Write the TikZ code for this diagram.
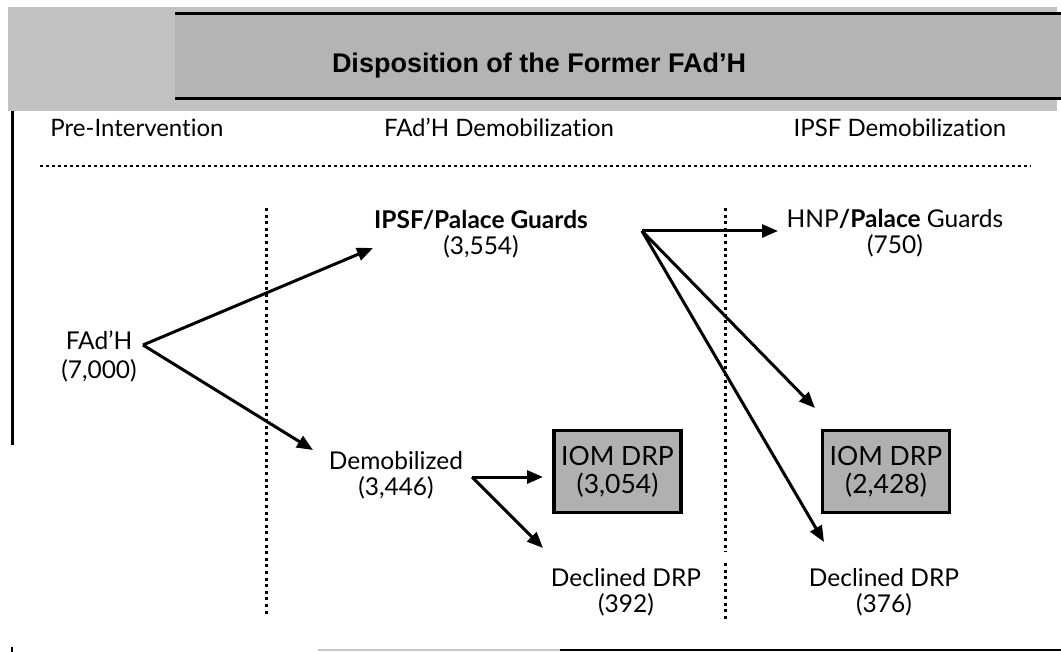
\documentclass[tikz,border=0pt]{standalone}
\usepackage{fontspec}
\setmainfont{Lato}[Ligatures=NoCommon]
\newfontfamily\titlefont{Liberation Sans}
\usetikzlibrary{arrows.meta}
\definecolor{bandgray}{HTML}{C2C2C2}
\definecolor{dithgray}{HTML}{B4B4B4}
\definecolor{boxgray}{HTML}{B0B0B0}
\definecolor{linegray}{HTML}{C8C8C8}
\begin{document}
\begin{tikzpicture}[x=1pt,y=-1pt,
  lbl/.style={font=\fontsize{24.5}{26}\selectfont, align=center, inner sep=0pt, anchor=base},
  hdr/.style={font=\fontsize{24}{26}\selectfont, inner sep=0pt, anchor=base},
  arr/.style={line width=3pt, -{Triangle[length=16pt,width=13pt]}},
  vdots/.style={line width=3pt, dash pattern=on 3pt off 3.6pt},
  hdots/.style={line width=2.4pt, dash pattern=on 3pt off 3pt},
  iombox/.style={draw, line width=3.2pt, fill=boxgray, minimum width=127pt, minimum height=82pt,
    align=center, inner sep=0pt, font=\fontsize{26.5}{28}\selectfont}
]
\useasboundingbox (0,0) rectangle (1061,652);

% header band
\fill[bandgray] (8,7) rectangle (1057,111);
\fill[dithgray] (175,12) rectangle (1061,100);
\draw[line width=3pt] (175,13.5) -- (1061,13.5);
\draw[line width=3pt] (175,98.5) -- (1061,98.5);
\node[font=\titlefont\bfseries\fontsize{27}{30}\selectfont, inner sep=0pt, anchor=base] (title) at (539,73) {Disposition of the Former FAd’H};

% frame lines
\draw[line width=3pt] (12,111) -- (12,445);
\draw[line width=2pt] (12,647) -- (12,652);
\draw[line width=1.5pt, linegray] (318,650) -- (560,650);
\draw[line width=2.2pt] (560,650) -- (1061,650);

% column headers
\node[hdr] (h1) at (137,137) {Pre-Intervention};
\node[hdr] (h2) at (499,137) {FAd’H Demobilization};
\node[hdr] (h3) at (900,137) {IPSF Demobilization};
\draw[hdots] (40,166) -- (1031,166);

% column separators
\draw[vdots] (266,208) -- (266,614);
\draw[vdots] (725,208) -- (725,552);
\draw[vdots] (725,563) -- (725,621);

% nodes (anchored at the baseline of their last line)
\node[lbl, font=\fontsize{24.5}{29}\selectfont] (fadh) at (99,379) {FAd’H\\(7,000)};
\node[lbl] (ipsf) at (481,255) {\bfseries IPSF/Palace Guards\\(3,554)};
\node[lbl] (demob) at (396,495) {Demobilized\\(3,446)};
\node[lbl] (hnp) at (895,254) {HNP\textbf{/Palace} Guards\\(750)};
\node[iombox] (iom1) at (617.5,471.5) {IOM DRP\\(3,054)};
\node[iombox] (iom2) at (886,471.5) {IOM DRP\\(2,428)};
\node[lbl] (decl1) at (626,612) {Declined DRP\\(392)};
\node[lbl] (decl2) at (884,612) {Declined DRP\\(376)};

% connector end points
\coordinate (fadhout) at (143,345);
\coordinate (ipsfin) at (373,248);
\coordinate (demobin) at (313,450);
\coordinate (ipsfout) at (642,231);
\coordinate (hnpin) at (778,231);
\coordinate (iom2in) at (815,408);
\coordinate (decl2in) at (824,542);
\coordinate (demobout) at (472,477);
\coordinate (iom1in) at (543,477);
\coordinate (decl1in) at (543,548);

% connectors
\draw[arr] (fadhout) -- (ipsfin);
\draw[arr] (fadhout) -- (demobin);
\draw[arr] (ipsfout) -- (hnpin);
\draw[arr] (ipsfout) -- (iom2in);
\draw[arr] (ipsfout) -- (decl2in);
\draw[arr] (demobout) -- (iom1in);
\draw[arr] (demobout) -- (decl1in);
\end{tikzpicture}
\end{document}
